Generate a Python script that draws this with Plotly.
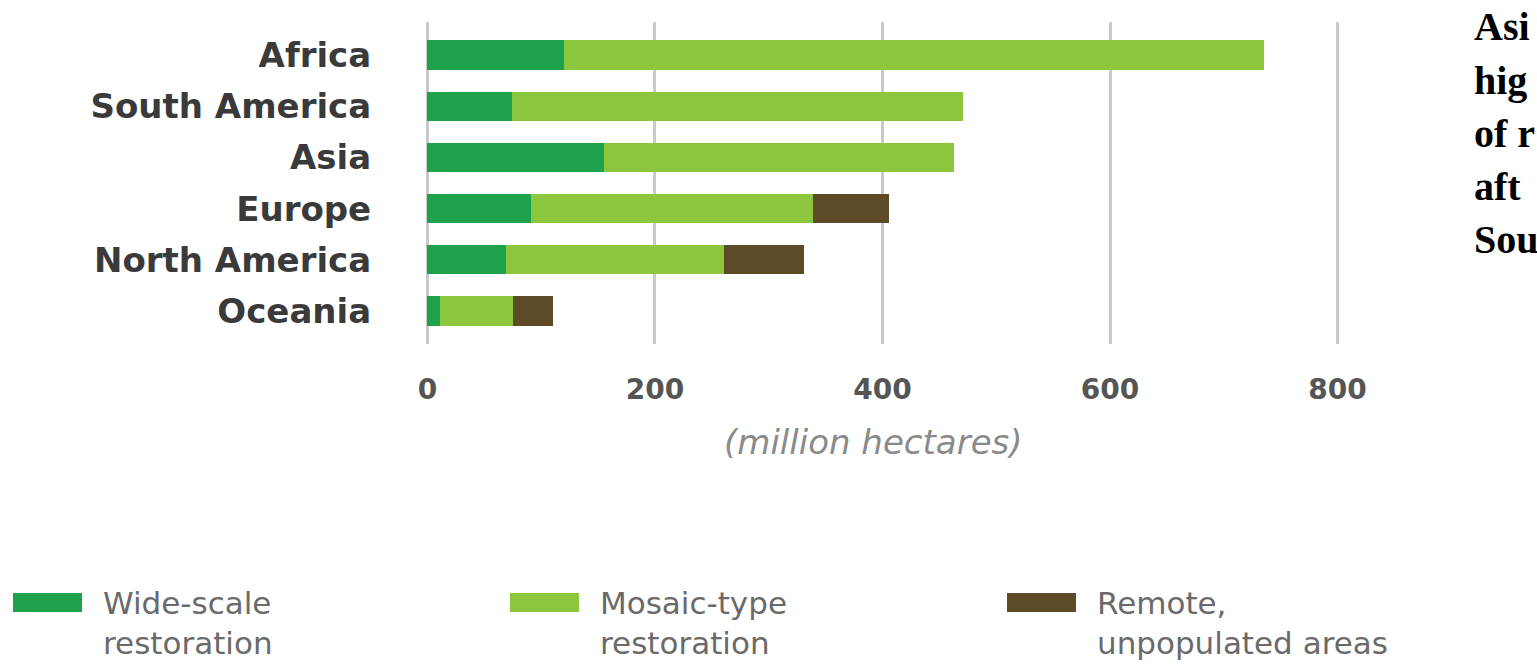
import plotly.graph_objects as go

regions = ["Africa", "South America", "Asia", "Europe", "North America", "Oceania"]
wide_scale = [120, 74, 155, 91, 69, 11]
mosaic_type = [615, 397, 308, 248, 192, 64]
remote = [0, 0, 0, 67, 70, 35]
x_ticks = [0, 200, 400, 600, 800]

series_names = ["Wide-scale<br>restoration", "Mosaic-type<br>restoration", "Remote,<br>unpopulated areas"]
colors = ["#1ea24b", "#8cc63f", "#5d4a26"]

# visible fragments of the commentary at the right edge of the reference
side_lines = ["Asi", "hig", "of r", "aft", "Sou"]

W, H = 1537, 664
ML, MR, MT, MB = 424, 196, 22, 320
PW = W - ML - MR
PH = H - MT - MB


def px_x(px):
    return (px - ML) / PW


def px_y(py):
    return (H - MB - py) / PH


fig = go.Figure()
for name, vals, col in zip(series_names, [wide_scale, mosaic_type, remote], colors):
    fig.add_trace(go.Bar(
        y=regions, x=vals, orientation="h", name=name,
        marker=dict(color=col, line=dict(width=0)),
        width=0.57, showlegend=False, hoverinfo="skip",
    ))

annotations = []
# axis title
annotations.append(dict(
    text="(million hectares)", xref="paper", yref="paper",
    x=px_x(873), y=px_y(442), xanchor="center", yanchor="middle",
    showarrow=False,
    font=dict(family="DejaVu Sans", size=34, color="#8a8a8a", style="italic"),
))

# right-hand commentary
side_centers = [27, 80, 133, 186, 239]
for t, cy in zip(side_lines, side_centers):
    annotations.append(dict(
        text=t, xref="paper", yref="paper", x=px_x(1472), y=px_y(cy),
        xanchor="left", yanchor="middle", showarrow=False,
        font=dict(family="Liberation Serif", size=40, color="#000000", weight="bold"),
    ))

# manual legend
shapes = []
legend_x = [13, 510, 1007]
for name, col, lx in zip(series_names, colors, legend_x):
    shapes.append(dict(
        type="rect", xref="paper", yref="paper",
        x0=px_x(lx), x1=px_x(lx + 69), y0=px_y(612), y1=px_y(593),
        fillcolor=col, line=dict(width=0),
    ))
    annotations.append(dict(
        text=name, xref="paper", yref="paper", x=px_x(lx + 88), y=px_y(623),
        xanchor="left", yanchor="middle", align="left", showarrow=False,
        font=dict(family="DejaVu Sans", size=31, color="#6a6a6a"),
    ))

fig.update_layout(
    width=W, height=H,
    margin=dict(l=ML, r=MR, t=MT, b=MB, pad=0),
    barmode="stack",
    paper_bgcolor="white", plot_bgcolor="white",
    annotations=annotations, shapes=shapes,
    showlegend=False,
)
fig.update_xaxes(
    range=[-3, 803], tickvals=x_ticks, ticktext=[str(v) for v in x_ticks],
    showgrid=True, gridcolor="#c9c9c9", gridwidth=3, zeroline=False,
    showline=False, ticks="outside", ticklen=20, tickcolor="rgba(0,0,0,0)",
    tickfont=dict(family="DejaVu Sans", size=28, color="#555555", weight="bold"),
    fixedrange=True,
)
fig.update_yaxes(
    categoryorder="array", categoryarray=regions,
    range=[5.645, -0.645], showgrid=False, zeroline=False, showline=False,
    ticks="outside", ticklen=45, tickcolor="rgba(0,0,0,0)",
    tickfont=dict(family="DejaVu Sans", size=34, color="#3a3a3a", weight="bold"),
    fixedrange=True,
)

fig.write_html("out.html")
